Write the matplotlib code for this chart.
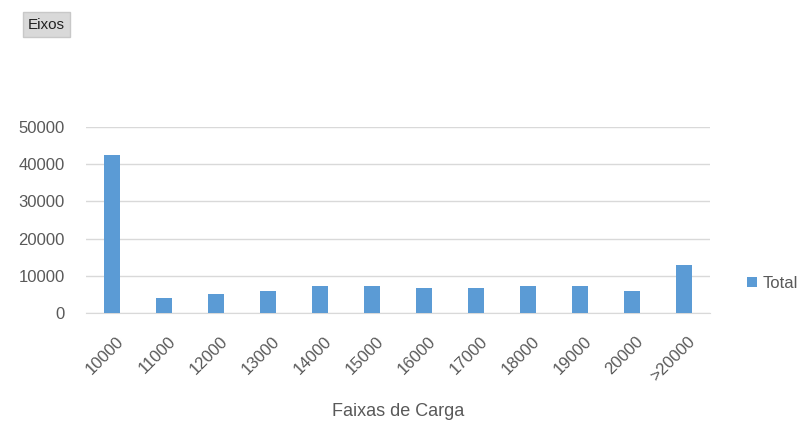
import matplotlib
matplotlib.use("Agg")
import matplotlib.pyplot as plt
import matplotlib.transforms as mtransforms

categories = ["10000", "11000", "12000", "13000", "14000", "15000",
              "16000", "17000", "18000", "19000", "20000", ">20000"]
totals = [42500, 3950, 5030, 5900, 7340, 7340, 6800, 6800, 7340, 7340, 5830, 12990]
yticks = [0, 10000, 20000, 30000, 40000, 50000]

plt.rcParams['font.family'] = ['Liberation Sans', 'DejaVu Sans']
fig = plt.figure(figsize=(8.02, 4.24), dpi=100)
ax = fig.add_axes([0.107, 0.262, 0.778, 0.438])

x = list(range(len(categories)))
ax.bar(x, totals, width=0.31, color="#5b9bd5", label="Total", zorder=3)
ax.set_xlim(-0.5, len(categories) - 0.5)
ax.set_ylim(0, 50000)
ax.set_yticks(yticks)
ax.set_yticklabels([str(v) for v in yticks], fontsize=12, color="#595959")
ax.set_xticks(x)
ax.set_xticklabels(categories, rotation=45, ha="right", va="top", rotation_mode="anchor",
                   fontsize=12, color="#595959")
ax.tick_params(axis="both", length=0)
ax.tick_params(axis="y", pad=15)
ax.tick_params(axis="x", pad=15)
offset = mtransforms.ScaledTranslation(4 / 100, 0, fig.dpi_scale_trans)
for lab in ax.get_xticklabels():
    lab.set_transform(lab.get_transform() + offset)
ax.grid(axis="y", color="#d9d9d9", linewidth=1, zorder=0)
for s in ["top", "right", "left"]:
    ax.spines[s].set_visible(False)
ax.spines["bottom"].set_color("#d9d9d9")
ax.set_xlabel("Faixas de Carga", fontsize=13, color="#595959", labelpad=14)

leg = ax.legend(loc="center left", bbox_to_anchor=(1.035, 0.16), frameon=False,
                fontsize=12, handlelength=0.6, handleheight=0.6, handletextpad=0.35)
for t in leg.get_texts():
    t.set_color("#595959")

fig.text(0.058, 0.942, "Eixos", fontsize=11, color="#222222", ha="center", va="center",
         bbox=dict(boxstyle="square,pad=0.35", facecolor="#d9d9d9", edgecolor="#c8c8c8"))

fig.savefig("out.png", dpi=100)
